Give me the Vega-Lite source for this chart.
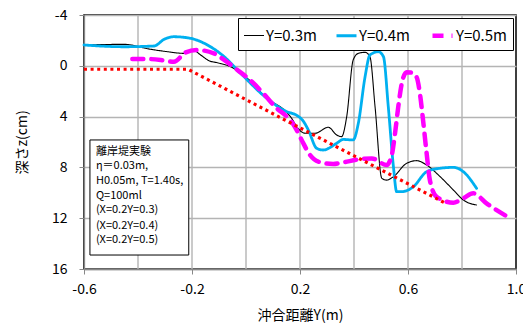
{
  "$schema": "https://vega.github.io/schema/vega-lite/v6.json",
  "width": 432,
  "height": 254,
  "autosize": {"type": "none"},
  "padding": {"left": 84, "top": 15, "right": 7, "bottom": 58},
  "background": "white",
  "config": {
    "font": "Noto Sans CJK JP",
    "view": {"stroke": "black", "strokeWidth": 1.5},
    "axis": {
      "labelFont": "Noto Sans CJK JP",
      "titleFont": "Noto Sans CJK JP",
      "labelFontSize": 14,
      "titleFontSize": 14,
      "titleFontWeight": "normal",
      "labelColor": "#000",
      "titleColor": "#000",
      "gridColor": "#B4B4B4",
      "gridOpacity": 1,
      "gridWidth": 1.4,
      "domainColor": "#888",
      "domainWidth": 1.3,
      "tickColor": "#888",
      "tickSize": 5
    }
  },
  "datasets": {
    "bed": [
      {"x": -0.6, "z": 0.27},
      {"x": -0.215, "z": 0.27},
      {"x": 0.174, "z": 4.6},
      {"x": 0.737, "z": 10.8}
    ],
    "profiles": [
      {"s": "Y=0.3m", "x": -0.6, "z": -1.64},
      {"s": "Y=0.3m", "x": -0.452, "z": -1.69},
      {"s": "Y=0.3m", "x": -0.353, "z": -1.3},
      {"s": "Y=0.3m", "x": -0.291, "z": -1.11},
      {"s": "Y=0.3m", "x": -0.23, "z": -0.98},
      {"s": "Y=0.3m", "x": -0.193, "z": -1.19},
      {"s": "Y=0.3m", "x": -0.168, "z": -0.85},
      {"s": "Y=0.3m", "x": -0.137, "z": -0.4},
      {"s": "Y=0.3m", "x": -0.106, "z": -0.24},
      {"s": "Y=0.3m", "x": -0.057, "z": 0.07},
      {"s": "Y=0.3m", "x": 0.003, "z": 0.95},
      {"s": "Y=0.3m", "x": 0.077, "z": 2.55},
      {"s": "Y=0.3m", "x": 0.15, "z": 3.65},
      {"s": "Y=0.3m", "x": 0.169, "z": 4.13},
      {"s": "Y=0.3m", "x": 0.188, "z": 4.8},
      {"s": "Y=0.3m", "x": 0.219, "z": 5.31},
      {"s": "Y=0.3m", "x": 0.256, "z": 5.31},
      {"s": "Y=0.3m", "x": 0.305, "z": 4.84},
      {"s": "Y=0.3m", "x": 0.336, "z": 5.45},
      {"s": "Y=0.3m", "x": 0.354, "z": 5.58},
      {"s": "Y=0.3m", "x": 0.373, "z": 4.0},
      {"s": "Y=0.3m", "x": 0.397, "z": -0.46},
      {"s": "Y=0.3m", "x": 0.416, "z": -0.98},
      {"s": "Y=0.3m", "x": 0.441, "z": -1.06},
      {"s": "Y=0.3m", "x": 0.459, "z": -0.72},
      {"s": "Y=0.3m", "x": 0.478, "z": 3.22},
      {"s": "Y=0.3m", "x": 0.503, "z": 8.86},
      {"s": "Y=0.3m", "x": 0.521, "z": 9.0},
      {"s": "Y=0.3m", "x": 0.546, "z": 8.73},
      {"s": "Y=0.3m", "x": 0.595, "z": 7.68},
      {"s": "Y=0.3m", "x": 0.632, "z": 7.47},
      {"s": "Y=0.3m", "x": 0.669, "z": 7.81},
      {"s": "Y=0.3m", "x": 0.719, "z": 8.73},
      {"s": "Y=0.3m", "x": 0.768, "z": 9.78},
      {"s": "Y=0.3m", "x": 0.805, "z": 10.57},
      {"s": "Y=0.3m", "x": 0.854, "z": 10.96},
      {"s": "Y=0.4m", "x": -0.6, "z": -1.64},
      {"s": "Y=0.4m", "x": -0.452, "z": -1.5},
      {"s": "Y=0.4m", "x": -0.34, "z": -1.56},
      {"s": "Y=0.4m", "x": -0.303, "z": -2.09},
      {"s": "Y=0.4m", "x": -0.267, "z": -2.29},
      {"s": "Y=0.4m", "x": -0.205, "z": -2.16},
      {"s": "Y=0.4m", "x": -0.143, "z": -1.64},
      {"s": "Y=0.4m", "x": -0.081, "z": -0.72},
      {"s": "Y=0.4m", "x": -0.02, "z": 0.59},
      {"s": "Y=0.4m", "x": 0.077, "z": 2.56},
      {"s": "Y=0.4m", "x": 0.151, "z": 3.61},
      {"s": "Y=0.4m", "x": 0.188, "z": 3.9},
      {"s": "Y=0.4m", "x": 0.212, "z": 4.35},
      {"s": "Y=0.4m", "x": 0.231, "z": 5.06},
      {"s": "Y=0.4m", "x": 0.262, "z": 6.5},
      {"s": "Y=0.4m", "x": 0.286, "z": 6.63},
      {"s": "Y=0.4m", "x": 0.336, "z": 6.1},
      {"s": "Y=0.4m", "x": 0.36, "z": 5.8},
      {"s": "Y=0.4m", "x": 0.397, "z": 5.84},
      {"s": "Y=0.4m", "x": 0.416, "z": 4.53},
      {"s": "Y=0.4m", "x": 0.441, "z": 0.86},
      {"s": "Y=0.4m", "x": 0.459, "z": -0.85},
      {"s": "Y=0.4m", "x": 0.49, "z": -1.11},
      {"s": "Y=0.4m", "x": 0.509, "z": -0.72},
      {"s": "Y=0.4m", "x": 0.527, "z": 3.22},
      {"s": "Y=0.4m", "x": 0.546, "z": 7.94},
      {"s": "Y=0.4m", "x": 0.558, "z": 9.91},
      {"s": "Y=0.4m", "x": 0.577, "z": 9.91},
      {"s": "Y=0.4m", "x": 0.62, "z": 9.52},
      {"s": "Y=0.4m", "x": 0.669, "z": 8.34},
      {"s": "Y=0.4m", "x": 0.719, "z": 8.07},
      {"s": "Y=0.4m", "x": 0.768, "z": 8.0},
      {"s": "Y=0.4m", "x": 0.805, "z": 8.34},
      {"s": "Y=0.4m", "x": 0.854, "z": 9.65},
      {"s": "Y=0.5m", "x": -0.421, "z": -0.54},
      {"s": "Y=0.5m", "x": -0.371, "z": -0.54},
      {"s": "Y=0.5m", "x": -0.316, "z": -0.46},
      {"s": "Y=0.5m", "x": -0.267, "z": -0.32},
      {"s": "Y=0.5m", "x": -0.223, "z": -1.06},
      {"s": "Y=0.5m", "x": -0.18, "z": -1.24},
      {"s": "Y=0.5m", "x": -0.119, "z": -0.98},
      {"s": "Y=0.5m", "x": -0.081, "z": -0.46},
      {"s": "Y=0.5m", "x": -0.032, "z": 0.33},
      {"s": "Y=0.5m", "x": 0.015, "z": 1.12},
      {"s": "Y=0.5m", "x": 0.064, "z": 2.17},
      {"s": "Y=0.5m", "x": 0.114, "z": 3.35},
      {"s": "Y=0.5m", "x": 0.151, "z": 4.0},
      {"s": "Y=0.5m", "x": 0.181, "z": 4.8},
      {"s": "Y=0.5m", "x": 0.206, "z": 5.84},
      {"s": "Y=0.5m", "x": 0.237, "z": 7.02},
      {"s": "Y=0.5m", "x": 0.268, "z": 7.55},
      {"s": "Y=0.5m", "x": 0.323, "z": 7.73},
      {"s": "Y=0.5m", "x": 0.36, "z": 7.6},
      {"s": "Y=0.5m", "x": 0.422, "z": 7.36},
      {"s": "Y=0.5m", "x": 0.466, "z": 7.29},
      {"s": "Y=0.5m", "x": 0.521, "z": 7.81},
      {"s": "Y=0.5m", "x": 0.54, "z": 7.02},
      {"s": "Y=0.5m", "x": 0.552, "z": 5.31},
      {"s": "Y=0.5m", "x": 0.564, "z": 3.22},
      {"s": "Y=0.5m", "x": 0.577, "z": 1.38},
      {"s": "Y=0.5m", "x": 0.595, "z": 0.5},
      {"s": "Y=0.5m", "x": 0.615, "z": 0.55},
      {"s": "Y=0.5m", "x": 0.632, "z": 0.9},
      {"s": "Y=0.5m", "x": 0.644, "z": 2.17},
      {"s": "Y=0.5m", "x": 0.657, "z": 4.53},
      {"s": "Y=0.5m", "x": 0.669, "z": 6.89},
      {"s": "Y=0.5m", "x": 0.681, "z": 9.0},
      {"s": "Y=0.5m", "x": 0.706, "z": 10.31},
      {"s": "Y=0.5m", "x": 0.768, "z": 10.78},
      {"s": "Y=0.5m", "x": 0.805, "z": 10.43},
      {"s": "Y=0.5m", "x": 0.842, "z": 10.04},
      {"s": "Y=0.5m", "x": 0.891, "z": 10.83},
      {"s": "Y=0.5m", "x": 0.978, "z": 12.0}
    ],
    "vgrid": [
      {"gx": -0.4}, {"gx": -0.2}, {"gx": 0}, {"gx": 0.2}, {"gx": 0.4}, {"gx": 0.6}, {"gx": 0.8}
    ],
    "box": [{"x1": -0.578, "x2": -0.212, "z1": 5.84, "z2": 14.9}],
    "notes": [
      {"x": -0.556, "z": 6.76, "t": "離岸堤実験"},
      {"x": -0.556, "z": 7.87, "t": "η＝0.03m,"},
      {"x": -0.556, "z": 9.05, "t": "H0.05m, T=1.40s,"},
      {"x": -0.556, "z": 10.23, "t": "Q=100ml"},
      {"x": -0.556, "z": 11.38, "t": "(X=0.2Y=0.3)"},
      {"x": -0.556, "z": 12.59, "t": "(X=0.2Y=0.4)"},
      {"x": -0.556, "z": 13.72, "t": "(X=0.2Y=0.5)"}
    ]
  },
  "layer": [
    {
      "data": {"name": "vgrid"},
      "mark": {"type": "rule", "color": "#B4B4B4", "strokeWidth": 1.4},
      "encoding": {
        "x": {
          "field": "gx",
          "type": "quantitative",
          "scale": {"domain": [-0.6, 1.0], "nice": false, "zero": false},
          "axis": {
            "title": "沖合距離Y(m)",
            "grid": false,
            "values": [-0.6, -0.2, 0.2, 0.6, 1.0],
            "format": ".1f",
            "labelExpr": "replace(datum.label, '−', '-')",
            "labelPadding": 8,
            "titlePadding": 12,
            "labelFlush": false
          }
        }
      }
    },
    {
      "data": {"name": "profiles"},
      "mark": {"type": "line", "interpolate": "monotone", "strokeCap": "round", "strokeJoin": "round"},
      "encoding": {
        "x": {
          "field": "x",
          "type": "quantitative",
          "axis": {
            "title": "沖合距離Y(m)",
            "grid": false,
            "values": [-0.6, -0.2, 0.2, 0.6, 1.0],
            "format": ".1f",
            "labelExpr": "replace(datum.label, '−', '-')",
            "labelPadding": 8,
            "titlePadding": 12,
            "labelFlush": false
          }
        },
        "y": {
          "field": "z",
          "type": "quantitative",
          "scale": {"domain": [-4, 16], "nice": false, "zero": false, "reverse": true},
          "axis": {
            "title": "深さz(cm)",
            "grid": true,
            "values": [-4, 0, 4, 8, 12, 16],
            "labelExpr": "replace(datum.label, '−', '-')",
            "labelPadding": 12,
            "titlePadding": 22
          }
        },
        "color": {
          "field": "s",
          "type": "nominal",
          "scale": {"domain": ["Y=0.3m", "Y=0.4m", "Y=0.5m"], "range": ["#000000", "#00B0F0", "#FF00FF"]},
          "legend": {
            "title": null,
            "orient": "none",
            "legendX": 154,
            "legendY": 3,
            "direction": "horizontal",
            "strokeColor": "#000",
            "fillColor": "#fff",
            "padding": 5,
            "symbolType": "stroke",
            "symbolSize": 400,
            "labelFontSize": 15,
            "labelFont": "Noto Sans CJK JP",
            "labelColor": "#000",
            "labelOffset": 1,
            "columnPadding": 12
          }
        },
        "strokeDash": {
          "field": "s",
          "type": "nominal",
          "scale": {"domain": ["Y=0.3m", "Y=0.4m", "Y=0.5m"], "range": [[1, 0], [1, 0], [11, 8]]}
        },
        "strokeWidth": {
          "field": "s",
          "type": "nominal",
          "scale": {"domain": ["Y=0.3m", "Y=0.4m", "Y=0.5m"], "range": [1.1, 4.5, 4]}
        }
      }
    },
    {
      "data": {"name": "bed"},
      "mark": {"type": "line", "color": "#FF0000", "strokeWidth": 3.2, "strokeDash": [3, 3.6], "strokeCap": "butt"},
      "encoding": {
        "x": {"field": "x", "type": "quantitative"},
        "y": {"field": "z", "type": "quantitative"}
      }
    },
    {
      "data": {"name": "box"},
      "mark": {"type": "rect", "fill": "white", "stroke": "#000", "strokeWidth": 1},
      "encoding": {
        "x": {"field": "x1", "type": "quantitative"},
        "x2": {"field": "x2"},
        "y": {"field": "z1", "type": "quantitative"},
        "y2": {"field": "z2"}
      }
    },
    {
      "data": {"name": "notes"},
      "mark": {"type": "text", "align": "left", "baseline": "middle", "fontSize": 11, "font": "Noto Sans CJK JP", "color": "#000"},
      "encoding": {
        "x": {"field": "x", "type": "quantitative"},
        "y": {"field": "z", "type": "quantitative"},
        "text": {"field": "t"}
      }
    }
  ]
}
